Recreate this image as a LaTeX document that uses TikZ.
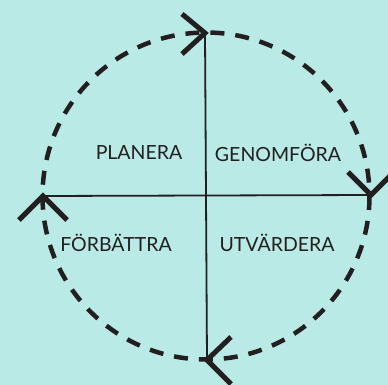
\documentclass[tikz,border=0pt]{standalone}
\usepackage{fontspec}
\setmainfont{Lato}
\definecolor{bg}{RGB}{185,234,230}
\definecolor{ink}{RGB}{35,31,32}
\begin{document}
\begin{tikzpicture}[x=1pt,y=-1pt,
  lbl/.style={font=\fontsize{19.5}{20}\selectfont, text=ink, inner sep=0pt},
  ring/.style={draw=ink, line width=4.5pt, dash pattern=on 14pt off 11pt},
  axis/.style={draw=ink, line width=1.8pt},
  chev/.style={draw=ink, line width=5pt}]
\fill[bg] (0,0) rectangle (388,385);
\useasboundingbox (0,0) rectangle (388,385);
\coordinate (c) at (206,196);
\coordinate (T) at (205,33);
\coordinate (B) at (207,360);
\coordinate (L) at (43,196);
\coordinate (R) at (371,195);
\draw[ring] (c) circle (163.5);
\draw[axis] (T) -- (B);
\draw[axis] (L) -- (R);
% chevrons
\coordinate (T1) at (182,14); \coordinate (T2) at (182,54);
\coordinate (R1) at (348,172); \coordinate (R2) at (394,172);
\coordinate (B1) at (231,337); \coordinate (B2) at (231,384);
\coordinate (L1) at (19,220); \coordinate (L2) at (67,220);
\draw[chev] (T1) -- (T) -- (T2);
\draw[chev] (R1) -- (R) -- (R2);
\draw[chev] (B1) -- (B) -- (B2);
\draw[chev] (L1) -- (L) -- (L2);
\node[lbl] (pl) at (139,153) {PLANERA};
\node[lbl] (ge) at (278,153) {GENOMFÖRA};
\node[lbl] (fo) at (116,243) {FÖRBÄTTRA};
\node[lbl] (ut) at (277,243) {UTVÄRDERA};
\end{tikzpicture}
\end{document}
